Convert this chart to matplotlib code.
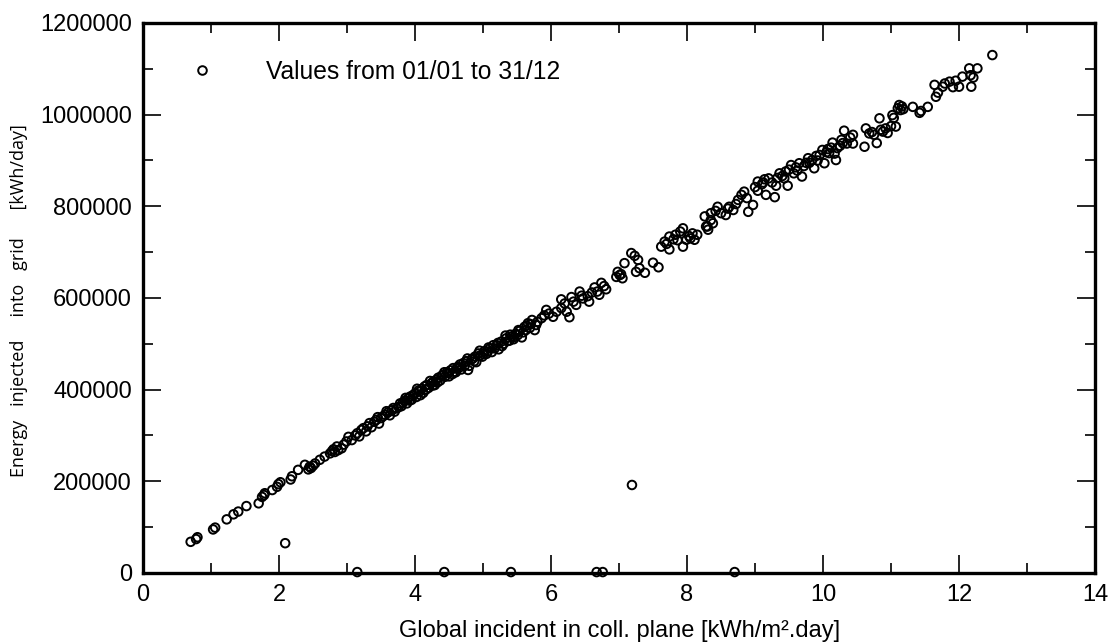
import matplotlib
matplotlib.use("Agg")
import matplotlib.pyplot as plt
from matplotlib.ticker import MultipleLocator, FuncFormatter
from matplotlib.lines import Line2D

# ---- data ----
x_low = [0.70, 0.78, 0.80, 1.03, 1.06, 1.23, 1.33, 1.40, 1.52, 1.70, 1.75, 1.78, 1.79, 1.90,
         1.97, 1.99, 2.02, 2.17, 2.19, 2.28, 2.38, 2.43, 2.45, 2.47, 2.50, 2.53, 2.60, 2.67,
         2.75, 2.78, 2.80, 2.82, 2.85, 2.87, 2.92, 2.95, 2.99, 3.02, 3.07]
y_low = [68000, 74000, 78000, 95000, 99000, 117000, 128000, 134000, 146000, 152000, 166000,
         170000, 174000, 181000, 188000, 194000, 198000, 204000, 211000, 225000, 236000,
         226000, 232000, 229000, 234000, 239000, 247000, 254000, 261000, 266000, 270000,
         264000, 276000, 268000, 272000, 280000, 287000, 297000, 290000]

x_mid = [3.12, 3.15, 3.18, 3.21, 3.24, 3.28, 3.30, 3.33, 3.36, 3.40, 3.43, 3.47, 3.50, 3.53,
         3.56, 3.60, 3.63, 3.66, 3.70, 3.73, 3.76, 3.80, 3.82, 3.85, 3.88, 3.90, 3.93, 3.95,
         3.97, 4.00, 4.02, 4.05, 4.07, 4.10, 4.12, 4.14, 4.17, 4.20, 4.24, 4.27, 4.29, 4.31,
         4.34, 4.37, 4.41, 4.44, 4.47, 4.49, 4.52, 4.55, 4.58, 4.61, 4.63, 4.66, 4.68, 4.71,
         4.75, 4.78, 4.80, 4.83, 4.85, 4.88, 4.90, 4.93, 4.96, 4.99, 5.02, 5.05, 5.07, 5.10,
         5.13, 5.17, 5.20, 5.23, 5.27, 5.30, 5.34, 5.36, 5.39, 5.42, 5.45, 5.48, 5.51, 5.54,
         5.57, 5.61, 5.63, 5.66, 5.69, 5.72]
y_mid = [300000, 305000, 298000, 312000, 316000, 309000, 320000, 327000, 318000, 330000,
         334000, 326000, 338000, 342000, 345000, 350000, 344000, 355000, 352000, 359000,
         362000, 364000, 372000, 376000, 370000, 381000, 385000, 378000, 388000, 392000,
         384000, 398000, 396000, 402000, 393000, 407000, 410000, 404000, 414000, 418000,
         410000, 421000, 426000, 420000, 432000, 428000, 438000, 436000, 442000, 434000,
         439000, 446000, 450000, 455000, 444000, 458000, 462000, 443000, 452000, 466000,
         468000, 472000, 460000, 479000, 475000, 472000, 484000, 478000, 483000, 490000,
         482000, 490000, 497000, 488000, 505000, 500000, 512000, 506000, 507000, 516000,
         510000, 522000, 519000, 528000, 514000, 537000, 530000, 545000, 535000, 552000]

x_mid2 = [3.45, 3.58, 3.68, 3.78, 3.86, 3.92, 4.03, 4.08, 4.16, 4.22, 4.26, 4.33, 4.39, 4.43,
          4.50, 4.56, 4.60, 4.65, 4.73, 4.77, 4.87, 4.95, 5.00, 5.08, 5.15, 5.22, 5.28, 5.33,
          5.40, 5.46, 5.52, 5.59, 5.64, 5.70]
y_mid2 = [340000, 353000, 360000, 370000, 382000, 376000, 402000, 388000, 400000, 419000,
          409000, 416000, 430000, 438000, 429000, 447000, 438000, 448000, 452000, 468000,
          462000, 485000, 478000, 492000, 497000, 502000, 495000, 518000, 520000, 515000,
          530000, 525000, 540000, 543000]

x_upper = [5.76, 5.78, 5.80, 5.86, 5.90, 5.93, 5.97, 6.03, 6.08, 6.15, 6.15, 6.20, 6.23, 6.27,
           6.30, 6.33, 6.37, 6.42, 6.45, 6.47, 6.54, 6.56, 6.60, 6.64, 6.68, 6.71, 6.74, 6.78,
           6.81, 6.96, 6.98, 7.01, 7.03, 7.05, 7.08, 7.18, 7.23, 7.25, 7.28, 7.30, 7.38, 7.50,
           7.58, 7.62, 7.67, 7.70, 7.74, 7.74, 7.80, 7.83, 7.86, 7.90, 7.94, 7.94, 7.99, 8.03,
           8.05, 8.08, 8.11, 8.15, 8.26, 8.28, 8.31, 8.35]
y_upper = [530000, 541000, 548000, 556000, 562000, 574000, 566000, 559000, 570000, 578000,
           597000, 588000, 570000, 558000, 602000, 592000, 585000, 614000, 605000, 599000,
           604000, 592000, 612000, 623000, 614000, 607000, 633000, 626000, 619000, 646000,
           657000, 650000, 652000, 643000, 676000, 698000, 692000, 657000, 683000, 665000,
           655000, 677000, 667000, 712000, 723000, 718000, 734000, 706000, 728000, 738000,
           726000, 745000, 752000, 712000, 727000, 735000, 730000, 741000, 727000, 738000,
           778000, 756000, 749000, 785000]

x_high = [8.30, 8.35, 8.38, 8.42, 8.45, 8.50, 8.57, 8.60, 8.62, 8.68, 8.72, 8.75, 8.80, 8.84,
          8.88, 8.90, 8.97, 9.00, 9.04, 9.04, 9.10, 9.14, 9.16, 9.20, 9.25, 9.29, 9.31, 9.36,
          9.40, 9.43, 9.48, 9.50, 9.53, 9.57, 9.60, 9.65, 9.69, 9.72, 9.78, 9.80, 9.84, 9.87,
          9.90, 9.95, 9.99, 10.02, 10.05, 10.09, 10.12, 10.14, 10.19, 10.21, 10.25, 10.29,
          10.31, 10.35, 10.40, 10.44, 10.44, 10.61, 10.63, 10.68, 10.72, 10.75, 10.79, 10.83,
          10.85, 10.92]
y_high = [756000, 770000, 763000, 790000, 799000, 785000, 781000, 795000, 799000, 792000,
          805000, 814000, 825000, 832000, 818000, 788000, 803000, 842000, 854000, 834000,
          848000, 859000, 825000, 861000, 852000, 820000, 845000, 872000, 866000, 861000,
          845000, 880000, 890000, 872000, 885000, 894000, 865000, 888000, 905000, 895000,
          901000, 883000, 910000, 912000, 923000, 894000, 918000, 916000, 928000, 939000,
          901000, 927000, 932000, 938000, 965000, 937000, 950000, 956000, 937000, 930000,
          970000, 959000, 962000, 956000, 938000, 992000, 967000, 970000]

x_high2 = [9.12, 9.33, 9.45, 9.62, 9.75, 9.92, 10.07, 10.17, 10.27]
y_high2 = [852000, 862000, 876000, 878000, 895000, 900000, 925000, 915000, 945000]

x_top = [10.88, 10.95, 11.00, 11.02, 11.04, 11.07, 11.10, 11.12, 11.14, 11.16, 11.18, 11.32,
         11.42, 11.44, 11.54, 11.64, 11.66, 11.69, 11.76, 11.79, 11.86, 11.91, 11.95, 12.00,
         12.05, 12.15, 12.17, 12.18, 12.21, 12.27, 12.49]
y_top = [963000, 960000, 975000, 999000, 993000, 974000, 1014000, 1021000, 1010000, 1018000,
         1012000, 1017000, 1004000, 1008000, 1017000, 1065000, 1039000, 1048000, 1061000,
         1068000, 1072000, 1060000, 1074000, 1061000, 1083000, 1101000, 1086000, 1061000,
         1081000, 1101000, 1130000]

x_out = [2.09, 7.19, 3.15, 4.43, 5.41, 6.67, 6.76, 8.70]
y_out = [65000, 192000, 2000, 2000, 2000, 2000, 2000, 2000]

legend_label = "Values from 01/01 to 31/12"
x_label = "Global incident in coll. plane [kWh/m\u00b2.day]"
y_label = "Energy   injected     into   grid      [kWh/day]"

# ---- figure ----
plt.rcParams['font.family'] = ['Liberation Sans', 'DejaVu Sans']
fig = plt.figure(figsize=(11.09, 6.42), dpi=100)
ax = fig.add_axes([0.129, 0.1075, 0.8584, 0.8567])

xs = x_low + x_mid + x_mid2 + x_upper + x_high + x_high2 + x_top + x_out
ys = y_low + y_mid + y_mid2 + y_upper + y_high + y_high2 + y_top + y_out
ax.scatter(xs, ys, s=38, facecolors='none', edgecolors='black', linewidths=1.4,
           clip_on=False, zorder=3)

ax.set_xlim(0, 14)
ax.set_ylim(0, 1200000)
ax.xaxis.set_major_locator(MultipleLocator(2))
ax.xaxis.set_minor_locator(MultipleLocator(1))
ax.yaxis.set_major_locator(MultipleLocator(200000))
ax.yaxis.set_minor_locator(MultipleLocator(100000))
ax.xaxis.set_major_formatter(FuncFormatter(lambda v, p: f"{v:.0f}"))
ax.yaxis.set_major_formatter(FuncFormatter(lambda v, p: f"{v:.0f}"))
ax.tick_params(which='both', direction='in', top=True, right=True, width=1.2,
               labelsize=17, colors='black')
ax.tick_params(which='major', length=13)
ax.tick_params(which='minor', length=7)
ax.tick_params(axis='x', which='major', pad=8)
ax.tick_params(axis='y', which='major', pad=8)
for sp in ax.spines.values():
    sp.set_linewidth(2.4)

ax.set_xlabel(x_label, fontsize=17)
ax.xaxis.set_label_coords(0.501, -0.105)
ax.xaxis.label.set_va('center')
ax.set_ylabel(y_label, fontsize=13, family=['Open Sans', 'DejaVu Sans'])
ax.yaxis.set_label_coords(-0.130, 0.496)
ax.yaxis.label.set_va('center')

handle = Line2D([], [], linestyle='none', marker='o', markersize=6.2, markerfacecolor='none',
                markeredgecolor='black', markeredgewidth=1.4)
leg = ax.legend([handle], [legend_label], loc='upper left', frameon=False,
                bbox_to_anchor=(177 / 1109, 1 - 60 / 642), bbox_transform=fig.transFigure,
                borderpad=0, borderaxespad=0, handlelength=2.0, handletextpad=1.6,
                prop={'size': 17.7})

fig.savefig("out.png", dpi=100)
